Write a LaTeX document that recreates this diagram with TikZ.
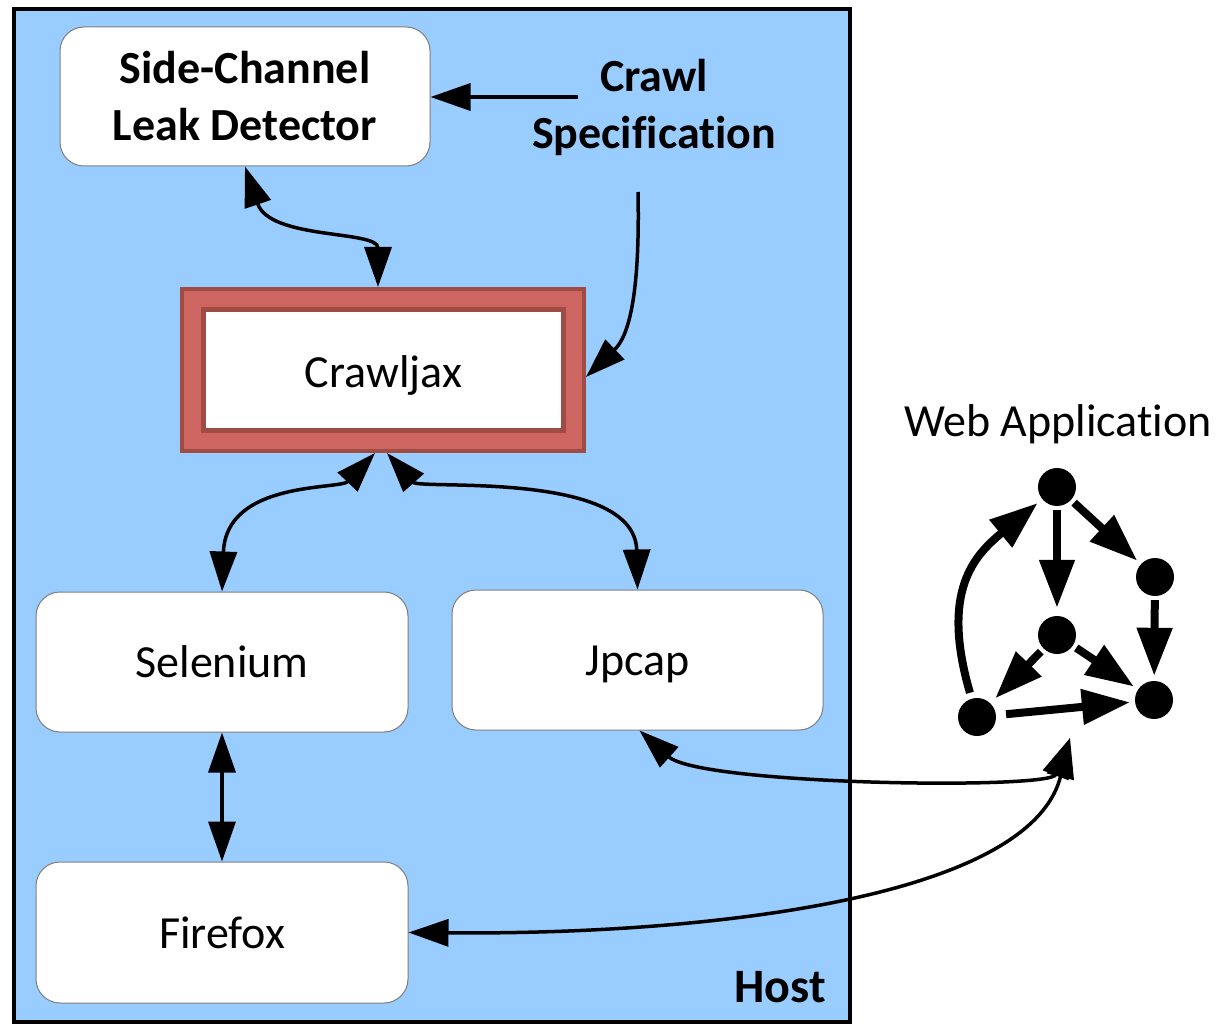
\documentclass[tikz,border=0pt]{standalone}
\usepackage{fontspec}
\setmainfont{Carlito}[Ligatures=NoCommon]
\usetikzlibrary{arrows.meta}
\definecolor{hostblue}{HTML}{99CCFF}
\definecolor{crawlred}{HTML}{CD6660}
\definecolor{crawldark}{HTML}{A04C45}
\definecolor{boxgray}{HTML}{7F7F7F}
\begin{document}
\begin{tikzpicture}[x=1pt,y=-1pt,
  box/.style={draw=boxgray, line width=1pt, fill=white, rounded corners=24pt,
    inner sep=0pt, font=\fontsize{46}{57}\selectfont, align=center},
  oneline/.style={text height=37pt, text depth=6pt},
  big/.style={font=\fontsize{46}{57}\selectfont, align=center, inner sep=0pt},
  tipA/.tip={Triangle[length=40pt,width=27pt]},
  link/.style={line width=3.5pt, -tipA},
  dlink/.style={line width=3.5pt, tipA-tipA},
  gdot/.style={circle, fill=black, minimum size=38pt, inner sep=0pt},
  gedge/.style={line width=8pt, -{Triangle[length=48pt,width=34pt]},
    shorten <=4pt, shorten >=5pt}]
\useasboundingbox (0,0) rectangle (1219,1024);

% Host
\node[draw, line width=4pt, fill=hostblue, minimum width=836pt,
  minimum height=1013pt, inner sep=0pt] (host) at (432,515.5) {};
\node[big, font=\fontsize{48}{57}\selectfont\bfseries, anchor=base east] (hostlbl) at (826,1002) {Host};

% Boxes
\node[box, font=\fontsize{46}{57}\selectfont\bfseries, minimum width=370pt, minimum height=139pt]
  (scld) at (245,96.5) {Side-Channel\\Leak Detector};
\node[big, font=\fontsize{46}{57}\selectfont\bfseries] (spec) at (654,107) {Crawl\\Specification};

\node[draw=crawldark, line width=4pt, fill=crawlred, minimum width=402pt,
  minimum height=162pt, inner sep=0pt] (crawlout) at (383,370) {};
\node[draw=crawldark, line width=5pt, fill=white, minimum width=360pt,
  minimum height=121pt, inner sep=0pt, font=\fontsize{46}{57}\selectfont,
  text height=41pt, text depth=6pt]
  (crawljax) at (383.5,370) {Crawljax};

\node[box, oneline, minimum width=372pt, minimum height=140pt] (selenium) at (222,662) {Selenium};
\node[box, oneline, minimum width=371pt, minimum height=140pt] (jpcap) at (637.5,660) {Jpcap};
\node[box, oneline, minimum width=372pt, minimum height=141pt] (firefox) at (222,932.5) {Firefox};

% Web application
\node[big, font=\fontsize{46}{57}\selectfont] (walbl) at (1058,424) {Web Application};
\node[gdot] (g1) at (1057,487) {};
\node[gdot] (g2) at (1155,577) {};
\node[gdot] (g3) at (1057,635) {};
\node[gdot] (g4) at (977,717) {};
\node[gdot] (g5) at (1154,700) {};
\draw[gedge, shorten >=8pt] (g1) -- (g3);
\draw[gedge] (g1) -- (g2);
\draw[gedge] (g2) -- (g5);
\draw[gedge, shorten >=7pt] (g3) -- (g4);
\draw[gedge] (g3) -- (g5);
\draw[gedge, shorten <=10pt] (g4) -- (g5);
\draw[gedge, shorten <=6pt, shorten >=6pt] (g4) .. controls (940,590) and (975,555) .. (g1);

\coordinate (wa) at (1070,738);
\coordinate (specout) at (638,192);
\coordinate (specin) at (578,97);

% Connectors
\draw[link] (specin) -- (scld.east |- specin);
\draw[dlink] (scld.south) .. controls (270,240) and (378,230) .. ([xshift=-5pt]crawlout.north);
\draw[link] (specout) .. controls (640,290) and (630,335) .. ([yshift=-7pt]crawlout.east);
\draw[dlink] ([xshift=-8pt]crawlout.south) .. controls (340,490) and (226,480) .. (selenium.north);
\draw[dlink] ([xshift=4pt]crawlout.south) .. controls (420,490) and (635,470) .. (jpcap.north);
\draw[dlink] (selenium.south) -- (firefox.north);
\draw[dlink] ([xshift=2pt]jpcap.south) .. controls (700,785) and (1050,790) .. (wa);
\draw[dlink] (firefox.east) .. controls (700,935) and (1030,900) .. (wa);
\end{tikzpicture}
\end{document}
